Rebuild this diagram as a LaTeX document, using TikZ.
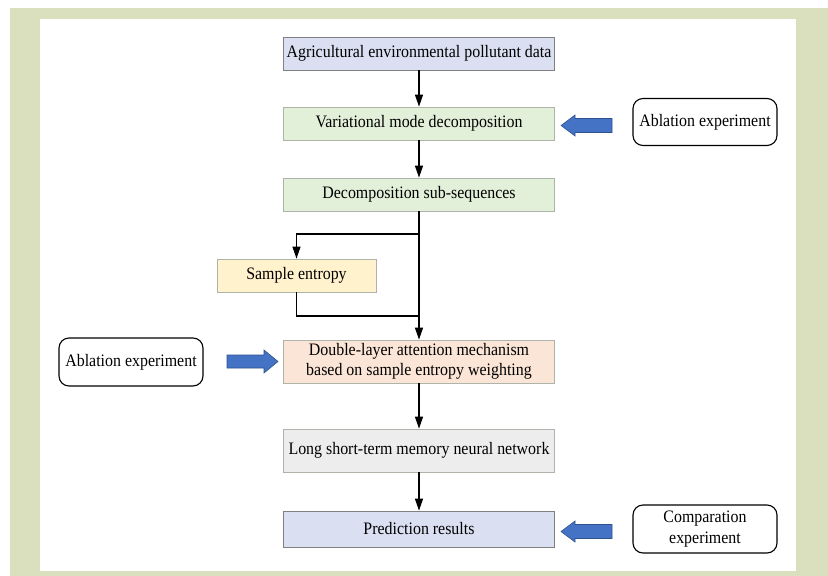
\documentclass[tikz,border=0pt]{standalone}
\usepackage{fontspec}
\setmainfont{Liberation Serif}[FakeStretch=0.91]
\usetikzlibrary{arrows.meta}
\definecolor{framegreen}{RGB}{218,224,189}
\definecolor{boxlav}{RGB}{218,224,242}
\definecolor{boxgreen}{RGB}{226,240,217}
\definecolor{boxyellow}{RGB}{255,242,204}
\definecolor{boxpeach}{RGB}{251,229,214}
\definecolor{boxgray}{RGB}{237,237,237}
\definecolor{darkedge}{RGB}{128,128,128}
\definecolor{lightedge}{RGB}{175,180,170}
\definecolor{arrowblue}{RGB}{68,114,196}
\definecolor{arrowedge}{RGB}{47,82,143}
\tikzset{
  flowbox/.style={draw=lightedge, line width=0.8pt, rectangle, minimum width=271pt, minimum height=33pt, inner sep=0pt, align=center, font=\fontsize{17.5}{19.5}\selectfont},
  sidebox/.style={draw=black, line width=1.1pt, rounded corners=10pt, minimum width=144pt, minimum height=47pt, inner sep=0pt, align=center, font=\fontsize{17.5}{21}\selectfont},
  flow/.style={line width=1.3pt, draw=black},
  flowarrow/.style={flow, -{Triangle[length=12pt,width=8pt]}},
  blockarrow/.style={fill=arrowblue, draw=arrowedge, line width=0.6pt, line join=miter}
}
\begin{document}
\begin{tikzpicture}[x=1pt,y=-1pt]
\useasboundingbox (0,0) rectangle (828,576);
\fill[white] (0,0) rectangle (828,576);
\fill[framegreen] (10,8) rectangle (828,576);
\fill[white] (40,19) rectangle (796,571);

\node[flowbox, fill=boxlav, draw=darkedge] (n1) at (419,53.5) {Agricultural environmental pollutant data};
\node[flowbox, fill=boxgreen] (n2) at (419,123.5) {Variational mode decomposition};
\node[flowbox, fill=boxgreen] (n3) at (419,194.5) {Decomposition sub-sequences};
\node[flowbox, fill=boxyellow, minimum width=159pt] (se) at (296.5,275.5) {Sample entropy};
\node[flowbox, fill=boxpeach, minimum height=43pt] (n4) at (419,361.5) {Double-layer attention mechanism\\based on sample entropy weighting};
\node[flowbox, fill=boxgray, minimum height=43pt] (n5) at (419,450.5) {Long short-term memory neural network};
\node[flowbox, fill=boxlav, draw=darkedge, minimum height=36pt] (n6) at (419,529) {Prediction results};

\node[sidebox] (ab1) at (705,122) {Ablation experiment};
\node[sidebox, minimum height=48pt] (ab2) at (131,362) {Ablation experiment};
\node[sidebox, minimum height=48pt] (cmp) at (705,529) {Comparation\\experiment};

\draw[flowarrow] (n1) -- (n2);
\draw[flowarrow] (n2) -- (n3);
\draw[flowarrow] (n3) -- (n4);
\coordinate (split) at (419,234);
\coordinate (join) at (419,316);
\draw[flowarrow] (split) -| (se.north);
\draw[flow] (se.south) |- (join);
\draw[flowarrow] (n4) -- (n5);
\draw[flowarrow] (n5) -- (n6);

% block arrows
\draw[blockarrow] (612,118.5) -- (575,118.5) -- (575,115) -- (561,125.5) -- (575,136) -- (575,132.5) -- (612,132.5) -- cycle;
\draw[blockarrow] (227,355) -- (264,355) -- (264,350) -- (278,361.5) -- (264,373) -- (264,368) -- (227,368) -- cycle;
\draw[blockarrow] (612,524.5) -- (575,524.5) -- (575,521) -- (561,531.5) -- (575,542) -- (575,538.5) -- (612,538.5) -- cycle;
\end{tikzpicture}
\end{document}
